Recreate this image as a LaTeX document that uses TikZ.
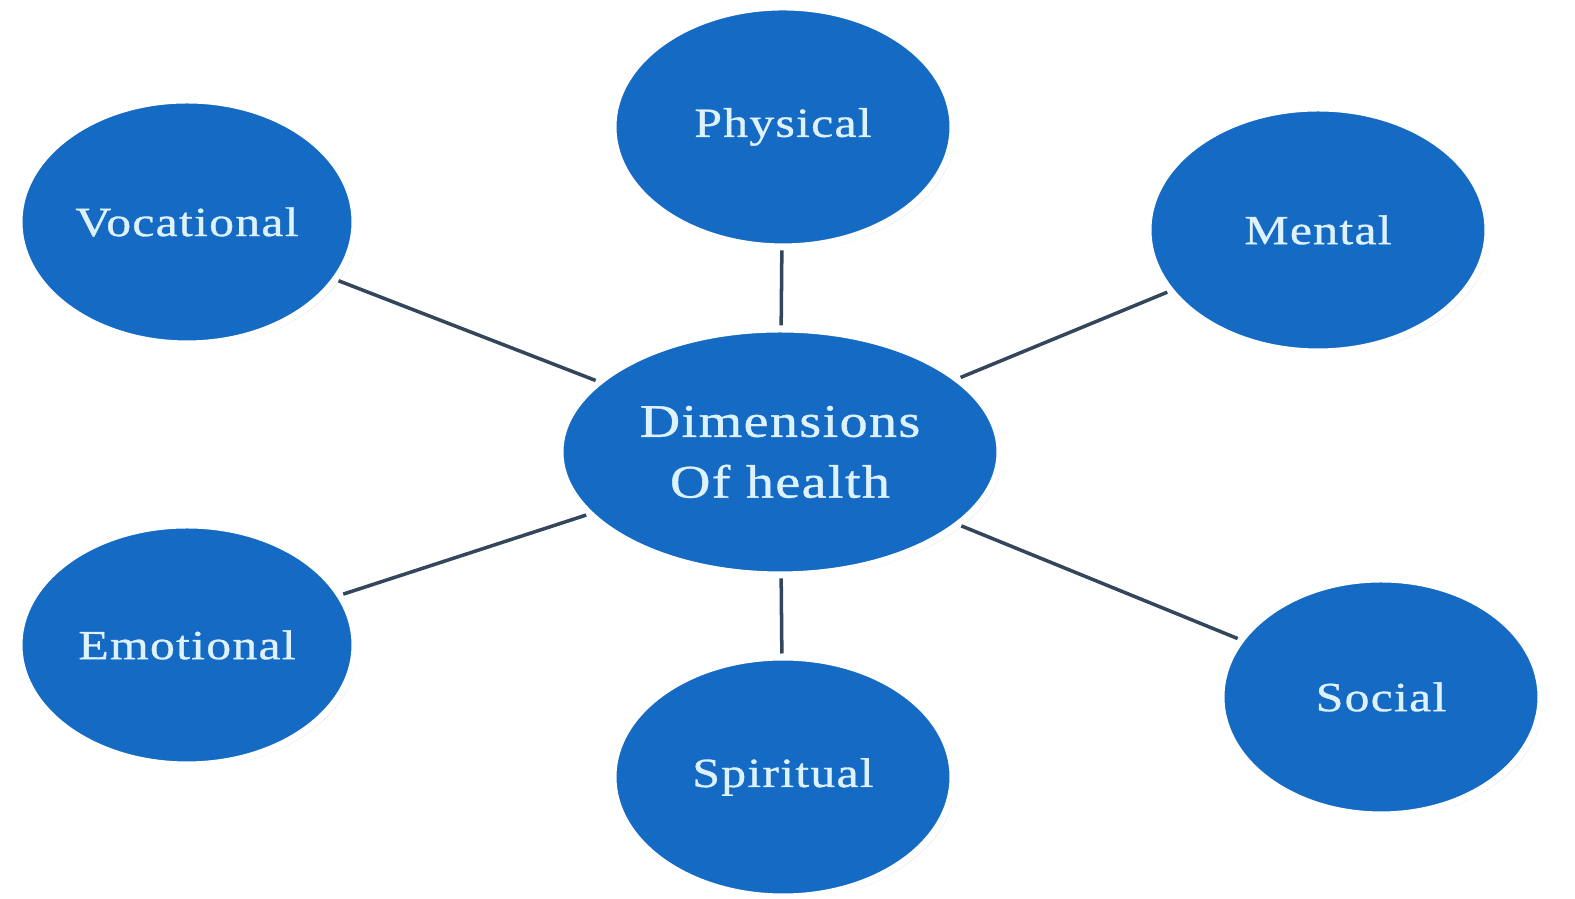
\documentclass[tikz,border=0pt]{standalone}
\usepackage{fontspec}
\setmainfont{Liberation Serif}
\newfontfamily\dimfont[FakeStretch=1.2, LetterSpace=3, FakeBold=0.8]{Liberation Serif}
\usepackage{tikz}
\usetikzlibrary{positioning, shapes.geometric, shadows}

\definecolor{dimblue}{RGB}{21,107,196}
\definecolor{dimtext}{RGB}{222,242,253}
\definecolor{dimline}{RGB}{52,70,92}

\begin{document}
\begin{tikzpicture}[node distance =0.75cm, auto,
  dim/.style={ellipse, fill=dimblue, draw=white, line width=2pt, inner sep=0pt,
    text=dimtext, font=\dimfont\fontsize{11.8}{14}\selectfont,
    drop shadow={shadow xshift=0.8pt, shadow yshift=-0.8pt, opacity=0.25}},
  spoke/.style={draw=dimline, line width=1pt}]
\useasboundingbox[fill=white] (0,0) rectangle (15.75,8.99);

\node[dim, minimum width=4.4cm, minimum height=2.46cm, align=center,
  font=\dimfont\fontsize{13.3}{17.3}\selectfont] (center) at (7.80,4.47) {Dimensions\\Of health};
\node[dim, minimum width=3.4cm, minimum height=2.4cm] (physical) [above=of center, xshift=0.03cm] {Physical};
\node[dim, minimum width=3.4cm, minimum height=2.4cm] (spiritual) [below=of center, xshift=0.03cm] {Spiritual};
\node[dim, minimum width=3.36cm, minimum height=2.44cm] (vocational) at (1.87,6.77) {Vocational};
\node[dim, minimum width=3.4cm, minimum height=2.44cm] (mental) at (13.18,6.69) {Mental};
\node[dim, minimum width=3.36cm, minimum height=2.4cm] (emotional) at (1.87,2.54) {Emotional};
\node[dim, minimum width=3.2cm, minimum height=2.36cm] (social) at (13.81,2.02) {Social};

\path[spoke]
    (center) edge (physical)
    (center) edge (spiritual)
    (center) edge (vocational)
    (center) edge (mental)
    (center) edge (emotional)
    (center) edge (social)
    ;
\end{tikzpicture}
\end{document}
